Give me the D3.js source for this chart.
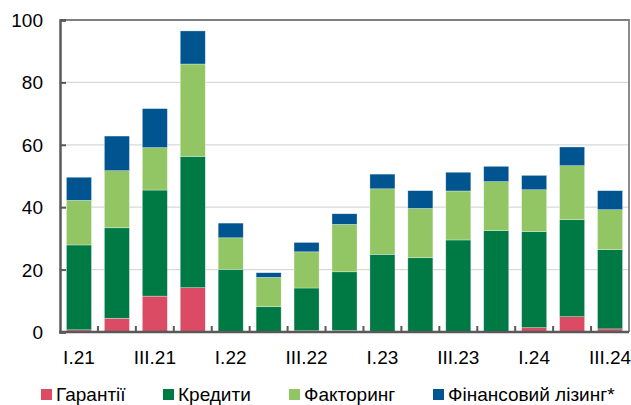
<!DOCTYPE html>
<html>
<head>
<meta charset="utf-8">
<script src="https://cdn.jsdelivr.net/npm/d3@7"></script>
<style>
  body { margin: 0; background: #fff; }
  svg { display: block; font-family: "Liberation Sans", Arial, sans-serif; }
</style>
</head>
<body>
<svg id="chart" width="631" height="405"></svg>
<script>
// quarters, in billions UAH
const quarters = ["I.21", "II.21", "III.21", "IV.21", "I.22", "II.22", "III.22", "IV.22",
                  "I.23", "II.23", "III.23", "IV.23", "I.24", "II.24", "III.24"]
const tickLabels = ["I.21", "III.21", "I.22", "III.22", "I.23", "III.23", "I.24", "III.24"]
const seriesNames = ["Гарантії", "Кредити", "Факторинг", "Фінансовий лізинг*"]
const guarantees = [0.7, 4.4, 11.5, 14.2, 0, 0, 0.4, 0.5, 0, 0, 0, 0, 1.4, 4.9, 1.0]
const credits    = [27.2, 29.0, 34.0, 42.1, 20.1, 8.1, 13.7, 18.8, 24.9, 23.8, 29.5, 32.5, 30.8, 31.1, 25.4]
const factoring  = [14.3, 18.3, 13.6, 29.6, 10.1, 9.4, 11.6, 15.2, 21.0, 15.8, 15.7, 15.7, 13.4, 17.3, 12.8]
const leasing    = [7.4, 11.1, 12.5, 10.6, 4.7, 1.5, 3.0, 3.4, 4.7, 5.7, 6.0, 4.9, 4.6, 6.0, 6.1]
const colors = ["#db4b63", "#007a45", "#92c665", "#005591"]

const svg = d3.select("#chart")
const m = {left: 60, right: 629, top: 20, bottom: 332}

const rows = quarters.map((q, i) => ({
    q,
    [seriesNames[0]]: guarantees[i],
    [seriesNames[1]]: credits[i],
    [seriesNames[2]]: factoring[i],
    [seriesNames[3]]: leasing[i]
}))
const stacked = d3.stack().keys(seriesNames)(rows)

const x = d3.scaleBand().domain(quarters).range([m.left, m.right]).paddingInner(0.34).paddingOuter(0.17)
const y = d3.scaleLinear().domain([0, 100]).range([m.bottom, m.top])

// gridlines
svg.append("g")
    .selectAll("line")
    .data([20, 40, 60, 80])
    .join("line")
    .attr("x1", m.left).attr("x2", m.right)
    .attr("y1", d => y(d)).attr("y2", d => y(d))
    .attr("stroke", "#d9d9d9").attr("stroke-width", 1.2)

// frame (top / right)
svg.append("path")
    .attr("d", `M${m.left},${m.top}H${m.right}V${m.bottom}`)
    .attr("fill", "none").attr("stroke", "#7f7f7f").attr("stroke-width", 1.8)

// bars
svg.append("g")
    .selectAll("g")
    .data(stacked)
    .join("g")
    .attr("fill", (d, i) => colors[i])
    .selectAll("rect")
    .data(d => d)
    .join("rect")
    .attr("x", d => x(d.data.q))
    .attr("width", x.bandwidth())
    .attr("y", d => y(d[1]))
    .attr("height", d => y(d[0]) - y(d[1]))
    .attr("stroke", "#ffffff").attr("stroke-opacity", 0.5).attr("stroke-width", 0.6)

// y axis
const yAxis = svg.append("g")
    .attr("transform", `translate(${m.left},0)`)
    .call(d3.axisRight(y).tickValues([0, 20, 40, 60, 80, 100]).tickSize(6).tickFormat(""))
yAxis.select(".domain").attr("stroke", "#595959").attr("stroke-width", 2.5)
yAxis.selectAll(".tick line").attr("stroke", "#595959").attr("stroke-width", 2)

svg.append("g")
    .selectAll("text")
    .data([0, 20, 40, 60, 80, 100])
    .join("text")
    .attr("x", 43).attr("y", d => y(d) + 7)
    .attr("text-anchor", "end")
    .attr("font-size", 19).attr("fill", "#000")
    .text(d => d)

// x axis with ticks between bars
const step = x.step()
const bounds = d3.range(1, quarters.length).map(i => m.left + i * step)
svg.append("g")
    .selectAll("line")
    .data(bounds)
    .join("line")
    .attr("x1", d => d).attr("x2", d => d)
    .attr("y1", m.bottom).attr("y2", m.bottom - 6)
    .attr("stroke", "#595959").attr("stroke-width", 2)
svg.append("line")
    .attr("x1", m.left - 1).attr("x2", m.right)
    .attr("y1", m.bottom).attr("y2", m.bottom)
    .attr("stroke", "#595959").attr("stroke-width", 2.5)

svg.append("g")
    .selectAll("text")
    .data(tickLabels)
    .join("text")
    .attr("x", d => x(d) + x.bandwidth() / 2)
    .attr("y", 363.5)
    .attr("text-anchor", "middle")
    .attr("font-size", 19).attr("fill", "#000")
    .text(d => d)

// legend (kept just inside the bottom edge)
const legendX = [41, 163, 289, 433]
const lg = svg.append("g")
    .selectAll("g")
    .data(seriesNames)
    .join("g")
    .attr("transform", (d, i) => `translate(${legendX[i]},389)`)
lg.append("rect").attr("width", 11).attr("height", 11).attr("fill", (d, i) => colors[i])
lg.append("text")
    .attr("x", 15).attr("y", 12)
    .attr("font-size", 19).attr("fill", "#000")
    .text(d => d)
</script>
</body>
</html>
